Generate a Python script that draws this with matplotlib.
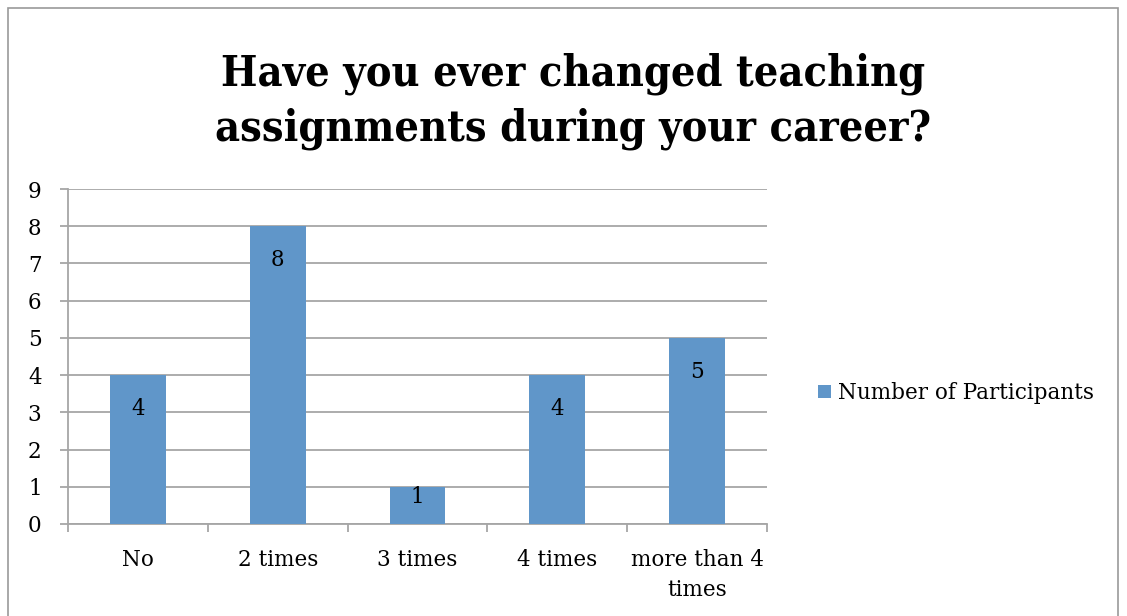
import matplotlib
matplotlib.use("Agg")
from matplotlib import pyplot as plt
from matplotlib.patches import Rectangle

categories = ["No", "2 times", "3 times", "4 times", "more than 4\ntimes"]
participants = [4, 8, 1, 4, 5]
y_ticks = list(range(0, 10))

bar_color = "#6096c9"
grid_color = "#a6a6a6"
serif = ["DejaVu Serif"]

fig = plt.figure(figsize=(11.27, 6.16), dpi=100)

# outer chart frame (runs off the bottom edge like the original)
fig.patches.append(Rectangle((8 / 1127, -0.1), 1110 / 1127, 1.1 - 8 / 616,
                             transform=fig.transFigure, fill=False,
                             edgecolor="#999999", linewidth=1.2))

ax = fig.add_axes([68 / 1127, 92 / 616, 699 / 1127, 335 / 616])
x = list(range(len(categories)))
bars = ax.bar(x, participants, width=0.4, color=bar_color, zorder=3,
              label="Number of Participants")

ax.set_xlim(-0.5, len(categories) - 0.5)
ax.set_ylim(0, 9)

# labels sit inside the top of each bar; short bars push them up
px_per_unit = 335 / 9
for rect, val in zip(bars, participants):
    h_px = val * px_per_unit
    off = min(34, h_px - 27)
    ax.annotate(str(val), (rect.get_x() + rect.get_width() / 2, rect.get_height()),
                xytext=(0, -off), textcoords="offset pixels",
                ha="center", va="center", fontsize=15.5, family=serif, zorder=4)

ax.set_yticks(y_ticks)
ax.set_yticklabels([str(t) for t in y_ticks], family=serif, fontsize=15.5)
ax.yaxis.grid(True, color=grid_color, linewidth=1.3, zorder=0)
ax.tick_params(axis="y", length=6, width=1.3, color=grid_color, pad=13)

# category boundaries as x ticks, labels at the centers
ax.set_xticks([i - 0.5 for i in range(len(categories) + 1)])
ax.set_xticklabels([])
ax.set_xticks(x, minor=True)
ax.set_xticklabels(categories, minor=True, family=serif, fontsize=15.5, linespacing=1.45)
ax.tick_params(axis="x", which="major", length=6, width=1.3, color=grid_color)
ax.tick_params(axis="x", which="minor", length=0, pad=18)

for side in ["top", "right"]:
    ax.spines[side].set_visible(False)
for side in ["left", "bottom"]:
    ax.spines[side].set_color(grid_color)
    ax.spines[side].set_linewidth(1.3)

fig.text(573 / 1127, 1 - 101 / 616, "Have you ever changed teaching\nassignments during your career?",
         ha="center", va="center", fontsize=31, fontweight="bold", family=serif,
         fontstretch="condensed", linespacing=1.38)

fig.legend(handles=[bars], labels=["Number of Participants"], loc="center left",
           bbox_to_anchor=(799 / 1127, 1 - 393 / 616), frameon=False,
           prop={"family": serif, "size": 15.5}, handlelength=0.6, handleheight=0.6,
           handletextpad=0.3)

fig.savefig("out.png", dpi=100)
